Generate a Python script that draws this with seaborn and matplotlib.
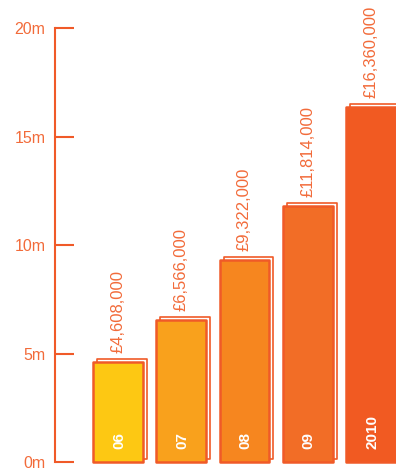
import matplotlib
matplotlib.use("Agg")
import matplotlib.pyplot as plt
import matplotlib.transforms as mtransforms
import seaborn as sns
import pandas as pd

years = ["06", "07", "08", "09", "2010"]
values = [4.608, 6.566, 9.322, 11.814, 16.360]  # millions
value_labels = ["£4,608,000", "£6,566,000", "£9,322,000", "£11,814,000", "£16,360,000"]
bar_colors = ["#FDC813", "#F9A11C", "#F6861F", "#F26D26", "#F15A22"]
y_ticks = [0, 5, 10, 15, 20]
y_tick_labels = ["0m", "5m", "10m", "15m", "20m"]

edge = "#F05A28"
text_c = "#F26B3A"

sns.set_theme(style="white")
plt.rcParams["font.family"] = ["Liberation Sans", "DejaVu Sans"]

df = pd.DataFrame({"year": years, "value": values})

fig = plt.figure(figsize=(3.96, 4.70), dpi=100)
ax = fig.add_axes([0.139, 0.017, 0.861, 0.923])

# back "sketch" outline, offset
sns.barplot(data=df, x="year", y="value", ax=ax, width=0.79,
            color="none", edgecolor=edge, linewidth=1.2, fill=False)
back = list(ax.patches)
for p in back:
    p.set_transform(mtransforms.offset_copy(ax.transData, fig=fig, x=4, y=3, units="dots"))
    p.set_facecolor("none")
    p.set_edgecolor(edge)
    p.set_joinstyle("round")
    p.set_clip_on(False)

# main bars
sns.barplot(data=df, x="year", y="value", ax=ax, width=0.79, hue="year",
            palette=bar_colors, legend=False, edgecolor=edge, linewidth=1.8,
            saturation=1)
front = [p for p in ax.patches if p not in back]
for p in front:
    p.set_joinstyle("round")
    p.set_clip_on(False)

for i, (v, lab, yr) in enumerate(zip(values, value_labels, years)):
    ax.text(i, v + 0.4, lab, rotation=90, ha="center", va="bottom",
            color=text_c, fontsize=12, clip_on=False)
    ax.text(i + 0.02, 0.6, yr, rotation=90, ha="center", va="bottom",
            color="white", fontsize=11, fontweight="bold")

ax.set_xlim(-1.0, 4.4)
ax.set_ylim(0, 20)
ax.set_yticks(y_ticks)
ax.set_yticklabels(y_tick_labels)
ax.set_xticks([])
ax.set_xlabel("")
ax.set_ylabel("")
for s in ["top", "right", "bottom"]:
    ax.spines[s].set_visible(False)
ax.spines["left"].set_color(edge)
ax.spines["left"].set_linewidth(1.5)
ax.tick_params(axis="y", direction="in", length=14, width=1.5, color=edge,
               labelcolor=text_c, labelsize=11.5, pad=7, left=True)
ax.patch.set_alpha(0)
for t in ax.get_yticklabels():
    t.set_clip_on(False)

fig.savefig("out.png", dpi=100)
